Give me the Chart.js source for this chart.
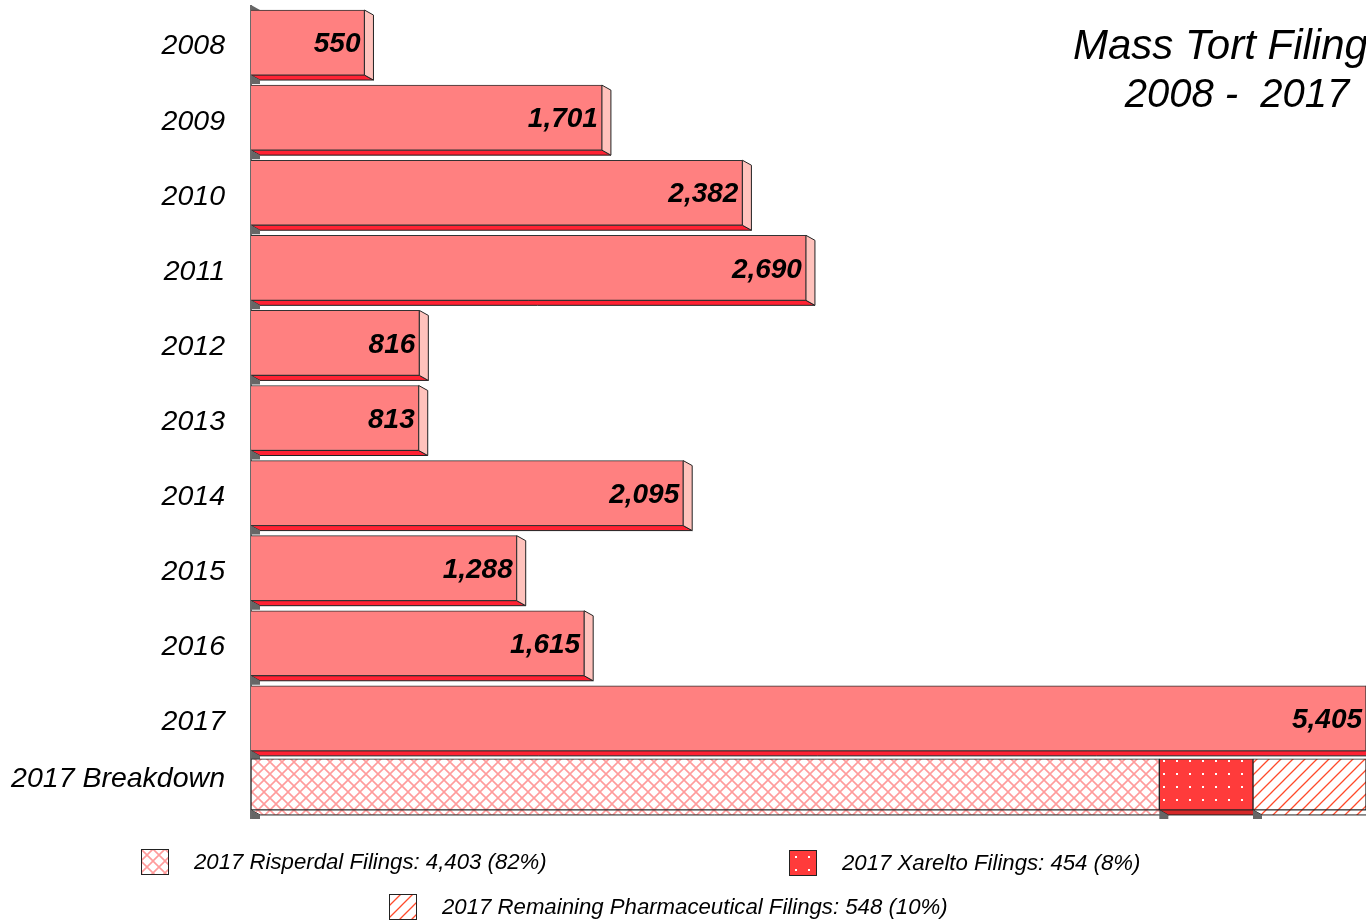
<!DOCTYPE html>
<html>
<head>
<meta charset="utf-8">
<script src="https://cdn.jsdelivr.net/npm/chart.js@4.4.0/dist/chart.umd.min.js"></script>
<style>
html, body { margin: 0; padding: 0; background: #fff; overflow: hidden; width: 1366px; height: 921px; }
#wrap { position: absolute; left: 0; top: 0; width: 1500px; height: 921px; }
.lg { position: absolute; height: 26px; font: italic 22.2px 'Liberation Sans', Arial, sans-serif; color: #000; white-space: nowrap; line-height: 26px; }
.lg canvas { position: absolute; left: 0; top: 0; }
.lg span { position: absolute; left: 53px; top: 0; }
</style>
</head>
<body>
<div id="wrap"><canvas id="c"></canvas></div>
<div id="legend"></div>
<script>
// data
const years = ['2008', '2009', '2010', '2011', '2012', '2013', '2014', '2015', '2016', '2017'];
const filings = [550, 1701, 2382, 2690, 816, 813, 2095, 1288, 1615, 5405];
const breakdownLabel = '2017 Breakdown';
const breakdownNames = ['2017 Risperdal Filings', '2017 Xarelto Filings', '2017 Remaining Pharmaceutical Filings'];
const breakdownValues = [4403, 454, 548];
const breakdownPct = [82, 8, 10];
const titleLines = ['Mass Tort Filings', '2008 -  2017'];

// layout
const BAR_ROW = 9.88;     // breakdown bar sits a bit closer than a full row
const BAR_TICK = 9.76;
const DX = 9, DY = 5;
const legendPos = [[141, 849], [789, 850], [389, 894]];
const FONT = "'Liberation Sans', Arial, sans-serif";

function tile(size, draw) {
  const c = document.createElement('canvas');
  c.width = c.height = size;
  draw(c.getContext('2d'), size);
  return c;
}
const latticeTile = tile(12, (g, s) => {
  g.fillStyle = '#fff'; g.fillRect(0, 0, s, s);
  g.strokeStyle = '#FF9C9C'; g.lineWidth = 1.6;
  g.beginPath();
  g.moveTo(0, 0); g.lineTo(s, s);
  g.moveTo(s, 0); g.lineTo(0, s);
  g.stroke();
});
const dotsTile = tile(13, (g, s) => {
  g.fillStyle = '#FF3B3B'; g.fillRect(0, 0, s, s);
  g.fillStyle = '#fff'; g.fillRect(6, 6, 2, 2);
});
const hatchTile = tile(12, (g, s) => {
  g.fillStyle = '#fff'; g.fillRect(0, 0, s, s);
  g.strokeStyle = '#FF4A2A'; g.lineWidth = 1.3;
  g.beginPath();
  g.moveTo(-s / 2, s / 2); g.lineTo(s / 2, -s / 2);
  g.moveTo(0, s); g.lineTo(s, 0);
  g.moveTo(s / 2, s * 1.5); g.lineTo(s * 1.5, s / 2);
  g.stroke();
});
const tiles = [latticeTile, dotsTile, hatchTile];

const ctx = document.getElementById('c').getContext('2d');
const pats = tiles.map(t => ctx.createPattern(t, 'repeat'));
const bottoms = [pats[0], '#D42828', pats[2]];

const datasets = [{
  data: years.map((y, i) => ({ x: filings[i], y: i })),
  backgroundColor: '#FF8080',
  borderColor: '#333',
  borderWidth: 1,
  barThickness: 65,
  bottomColor: '#FF2233',
  sideColor: '#FFC2BC',
  valueLabels: true
}];
breakdownValues.forEach((v, i) => {
  datasets.push({
    data: [{ x: v, y: BAR_ROW }],
    backgroundColor: pats[i],
    borderColor: '#222',
    borderWidth: 1,
    borderSkipped: false,
    barThickness: 51,
    bottomColor: bottoms[i],
    sideColor: i === breakdownValues.length - 1 ? '#FFD0C8' : null
  });
});

function poly(c, pts, fill, stroke) {
  c.beginPath();
  pts.forEach((p, i) => i ? c.lineTo(p[0], p[1]) : c.moveTo(p[0], p[1]));
  c.closePath();
  c.fillStyle = fill; c.fill();
  if (stroke) { c.strokeStyle = stroke; c.lineWidth = 1; c.stroke(); }
}

const depth3d = {
  id: 'depth3d',
  beforeDatasetsDraw(chart) {
    const c = chart.ctx;
    let lowest = chart.chartArea.top;
    let highest = chart.chartArea.bottom;
    c.save();
    chart.data.datasets.forEach((ds, di) => {
      chart.getDatasetMeta(di).data.forEach(bar => {
        const { x, y, base, height } = bar.getProps(['x', 'y', 'base', 'height'], true);
        const t = y - height / 2, b = y + height / 2;
        lowest = Math.max(lowest, b + DY);
        highest = Math.min(highest, t);
        poly(c, [[base, b], [x, b], [x + DX, b + DY], [base + DX, b + DY]], ds.bottomColor, '#222');
        if (ds.sideColor) {
          poly(c, [[x, t], [x + DX, t + DY], [x + DX, b + DY], [x, b]], ds.sideColor, '#222');
        }
        poly(c, [[base, b], [base + DX, b + DY], [base + DX, b + DY + 4], [base, b + DY + 4]], '#666');
      });
    });
    const l = chart.chartArea.left;
    poly(c, [[l, highest - 5], [l + DX, highest], [l, highest]], '#666');
    c.strokeStyle = '#6a6a6a'; c.lineWidth = 2;
    c.beginPath(); c.moveTo(l, highest - 5); c.lineTo(l, lowest + 4); c.stroke();
    c.restore();
  },
  afterDatasetsDraw(chart) {
    const c = chart.ctx;
    c.save();
    c.font = 'italic bold 28px ' + FONT;
    c.fillStyle = '#000';
    c.textAlign = 'right';
    c.textBaseline = 'middle';
    chart.data.datasets.forEach((ds, di) => {
      if (!ds.valueLabels) return;
      chart.getDatasetMeta(di).data.forEach((bar, i) => {
        const { x, y } = bar.getProps(['x', 'y'], true);
        c.fillText(filings[i].toLocaleString('en-US'), x - 4, y + 2);
      });
    });
    c.textAlign = 'left';
    c.font = 'italic 42px ' + FONT;
    c.fillText(titleLines[0], 1073, 47);
    c.textAlign = 'center';
    c.font = 'italic 40px ' + FONT;
    c.fillText(titleLines[1], 1237, 96);
    c.restore();
  }
};

const tickVals = years.map((y, i) => i).concat([BAR_TICK]);
const tickLabels = years.concat([breakdownLabel]);

new Chart(ctx, {
  type: 'bar',
  data: { datasets },
  options: {
    indexAxis: 'y',
    responsive: true,
    maintainAspectRatio: false,
    animation: false,
    layout: { padding: { top: 5, bottom: 90, left: 0, right: 11.2 } },
    plugins: { legend: { display: false }, tooltip: { enabled: false } },
    scales: {
      x: { type: 'linear', display: false, min: 0, max: 6000, stacked: true },
      y: {
        type: 'linear',
        reverse: true,
        offset: false,
        min: -0.5,
        max: 10.5,
        stacked: true,
        grid: { display: false, drawTicks: false, offset: false },
        border: { display: false },
        afterBuildTicks: axis => { axis.ticks = tickVals.map(v => ({ value: v })); },
        afterFit: axis => {
          axis.width = 251;
          axis.paddingTop = 0;
          axis.paddingBottom = 0;
        },
        ticks: {
          autoSkip: false,
          padding: 26,
          labelOffset: 4,
          color: '#000',
          font: { family: FONT, size: 28.5, style: 'italic' },
          callback: (v, i) => tickLabels[i]
        }
      }
    }
  },
  plugins: [depth3d]
});

// legend
const legend = document.getElementById('legend');
breakdownNames.forEach((name, i) => {
  const d = document.createElement('div');
  d.className = 'lg';
  d.style.left = legendPos[i][0] + 'px';
  d.style.top = legendPos[i][1] + 'px';
  const sw = document.createElement('canvas');
  sw.width = 28; sw.height = 26;
  const g = sw.getContext('2d');
  g.fillStyle = g.createPattern(tiles[i], 'repeat');
  g.fillRect(0, 0, 28, 26);
  g.strokeStyle = '#222'; g.lineWidth = 1;
  g.strokeRect(0.5, 0.5, 27, 25);
  const sp = document.createElement('span');
  sp.textContent = name + ': ' + breakdownValues[i].toLocaleString('en-US') + ' (' + breakdownPct[i] + '%)';
  d.appendChild(sw);
  d.appendChild(sp);
  legend.appendChild(d);
});
</script>
</body>
</html>
